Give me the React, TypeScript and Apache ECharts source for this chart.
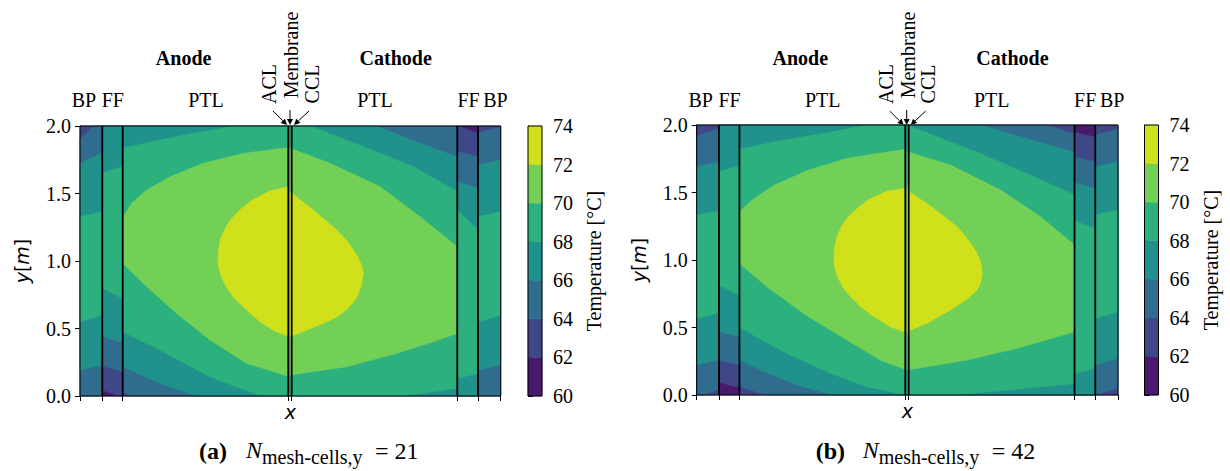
import React, { useEffect, useRef } from "react";
import * as echarts from "echarts";

type Pt = [number, number];
type Region = { lo: number; upper?: Pt[]; lower?: Pt[] };
type Block = { x0: number; x1: number; base: number; regions: Region[] };

// contour levels and viridis band colours
const LEVELS = [60, 62, 64, 66, 68, 70, 72, 74];
const BAND_COLORS = ["#481a6c", "#3f4788", "#2f6c8e", "#21918c", "#2cb17e", "#73d056", "#d0e11c"];
// layer boundaries along x: BP | FF | PTL | ACL/Membrane/CCL | PTL | FF | BP
const LAYER_EDGES = [0, 22.3, 42.7, 208.3, 211.7, 377.3, 398, 420.7];
const X_MAX = 420.7;
const Y_MIN = 0;
const Y_MAX = 2;
const TEMP_TICK_STEP = 2;
const Y_TICK_STEP = 0.5;
const Y_TICKS = [0, 0.5, 1, 1.5, 2];

// ---------- panel (a): N = 21 ----------
const A_BP_L: Block = { x0: 0, x1: 22.3, base: 62, regions: [
  { lo: 64, upper: [[0, 1.9], [13, 2], [22.3, 2]] },
  { lo: 66, upper: [[0, 1.724], [22.3, 1.8]], lower: [[0, 0.19], [22.3, 0.23]] },
  { lo: 68, upper: [[0, 1.328], [22.3, 1.365]], lower: [[0, 0.55], [22.3, 0.6]] },
] };
const A_FF_L: Block = { x0: 22.3, x1: 42.7, base: 60, regions: [
  { lo: 62, lower: [[22.3, 0.044], [38.3, 0], [42.7, 0]] },
  { lo: 64, lower: [[22.3, 0.222], [42.7, 0.18]] },
  { lo: 66, lower: [[22.3, 0.444], [42.7, 0.395]] },
  { lo: 68, upper: [[22.3, 1.65], [42.7, 1.7]], lower: [[22.3, 0.8], [42.7, 0.72]] },
] };
const A_PTL_L: Block = { x0: 42.7, x1: 210, base: 62, regions: [
  { lo: 64, lower: [[42.7, 0.032], [51.7, 0], [210, 0]] },
  { lo: 66, lower: [[42.7, 0.217], [80, 0.094], [116.7, 0], [210, 0]] },
  { lo: 68, upper: [[42.7, 1.835], [80, 1.896], [113.3, 1.946], [155, 2], [210, 2]],
    lower: [[42.7, 0.476], [80, 0.341], [130, 0.143], [181, 0], [210, 0]] },
  { lo: 70, upper: [[42.7, 1.328], [44.3, 1.34], [51.7, 1.427], [66.7, 1.526], [90, 1.624], [123.3, 1.724], [163.3, 1.797], [210, 1.842]],
    lower: [[42.7, 0.983], [66.7, 0.81], [96.7, 0.612], [130, 0.415], [166.7, 0.242], [210, 0.143]] },
  { lo: 72, upper: [[138, 1.0], [138.5, 1.08], [140.5, 1.16], [145, 1.24], [151, 1.31], [160, 1.38], [172, 1.45], [190, 1.52], [210, 1.551]],
    lower: [[138, 1.0], [139, 0.94], [142, 0.87], [147, 0.8], [155, 0.72], [166.7, 0.637], [180, 0.55], [195, 0.48], [210, 0.439]] },
] };
const A_PTL_R: Block = { x0: 210, x1: 377.3, base: 64, regions: [
  { lo: 66, upper: [[210, 2], [296.7, 2], [340, 1.872], [377.3, 1.773]] },
  { lo: 68, upper: [[210, 2], [230, 2], [283.3, 1.847], [333.3, 1.699], [377.3, 1.513]],
    lower: [[210, 0], [323.3, 0], [377.3, 0.057]] },
  { lo: 70, upper: [[210, 1.835], [250, 1.724], [300, 1.551], [340, 1.328], [377.3, 1.106]],
    lower: [[210, 0.156], [266.7, 0.217], [316.7, 0.316], [353.3, 0.402], [377.3, 0.464]] },
  { lo: 72, upper: [[210, 1.513], [233.3, 1.378], [256.7, 1.23], [268, 1.14], [277, 1.04], [282, 0.96], [283.3, 0.909]],
    lower: [[210, 0.439], [243.3, 0.538], [258, 0.59], [268, 0.65], [276, 0.72], [281, 0.81], [283.3, 0.909]] },
] };
const A_FF_R: Block = { x0: 377.3, x1: 398, base: 60, regions: [
  { lo: 62, upper: [[377.3, 2], [398, 1.946]] },
  { lo: 64, upper: [[377.3, 1.81], [398, 1.773]] },
  { lo: 66, upper: [[377.3, 1.588], [398, 1.538]] },
  { lo: 68, upper: [[377.3, 1.378], [398, 1.23]], lower: [[377.3, 0.131], [398, 0.168]] },
] };
const A_BP_R: Block = { x0: 398, x1: 420.7, base: 62, regions: [
  { lo: 64, upper: [[398, 1.95], [420.7, 1.99]] },
  { lo: 66, upper: [[398, 1.711], [420.7, 1.748]], lower: [[398, 0.193], [420.7, 0.23]] },
  { lo: 68, upper: [[398, 1.328], [420.7, 1.365]], lower: [[398, 0.55], [420.7, 0.6]] },
] };

// ---------- panel (b): N = 42 ----------
const B_BP_L: Block = { x0: 0, x1: 22.3, base: 62, regions: [
  { lo: 64, upper: [[0, 1.919], [22.3, 1.976]], lower: [[0, 0], [6.6, 0], [22.3, 0.042]] },
  { lo: 66, upper: [[0, 1.691], [22.3, 1.728]], lower: [[0, 0.222], [22.3, 0.264]] },
  { lo: 68, upper: [[0, 1.333], [22.3, 1.365]], lower: [[0, 0.568], [22.3, 0.61]] },
] };
const B_FF_L: Block = { x0: 22.3, x1: 42.7, base: 60, regions: [
  { lo: 62, lower: [[22.3, 0.095], [42.7, 0.055]] },
  { lo: 64, lower: [[22.3, 0.259], [42.7, 0.222]] },
  { lo: 66, lower: [[22.3, 0.469], [42.7, 0.432]] },
  { lo: 68, upper: [[22.3, 1.654], [42.7, 1.696]], lower: [[22.3, 0.815], [42.7, 0.741]] },
] };
const B_PTL_L: Block = { x0: 42.7, x1: 210, base: 62, regions: [
  { lo: 64, lower: [[42.7, 0.062], [70, 0], [210, 0]] },
  { lo: 66, lower: [[42.7, 0.259], [66.6, 0.175], [100, 0.075], [135, 0], [210, 0]] },
  { lo: 68, upper: [[42.7, 1.82], [83.3, 1.884], [133.3, 1.946], [170, 2], [210, 2]],
    lower: [[42.7, 0.5], [83.3, 0.333], [133.3, 0.161], [170, 0.062], [200, 0.015], [210, 0.01]] },
  { lo: 70, upper: [[42.7, 1.358], [56.6, 1.452], [76.6, 1.551], [110, 1.662], [150, 1.753], [210, 1.822]],
    lower: [[42.7, 0.975], [70, 0.802], [110, 0.587], [150, 0.407], [183.3, 0.259], [210, 0.185]] },
  { lo: 72, upper: [[137, 1.0], [137.5, 1.08], [139.5, 1.16], [144, 1.24], [150, 1.31], [160, 1.38], [172, 1.45], [190, 1.51], [210, 1.531]],
    lower: [[137, 1.0], [138, 0.94], [141, 0.87], [146, 0.8], [153.3, 0.73], [163, 0.66], [175, 0.59], [193.3, 0.506], [210, 0.462]] },
] };
const B_PTL_R: Block = { x0: 210, x1: 377.3, base: 62, regions: [
  { lo: 64, upper: [[210, 2], [350, 2], [377.3, 1.933]] },
  { lo: 66, upper: [[210, 2], [283.3, 2], [377.3, 1.798]] },
  { lo: 68, upper: [[210, 2], [286.6, 1.778], [336.6, 1.617], [377.3, 1.481]],
    lower: [[210, 0], [260, 0], [377.3, 0.086]] },
  { lo: 70, upper: [[210, 1.802], [253.3, 1.704], [303.3, 1.519], [343.3, 1.321], [377.3, 1.111]],
    lower: [[210, 0.185], [270, 0.259], [320, 0.346], [377.3, 0.469]] },
  { lo: 72, upper: [[210, 1.531], [213.3, 1.5], [236.6, 1.383], [260, 1.247], [272, 1.14], [280, 1.05], [284, 0.97], [285, 0.9]],
    lower: [[210, 0.462], [213.3, 0.481], [230, 0.531], [253.3, 0.63], [270, 0.71], [280, 0.778], [284, 0.84], [285, 0.9]] },
] };
const B_FF_R: Block = { x0: 377.3, x1: 398, base: 60, regions: [
  { lo: 62, upper: [[377.3, 1.946], [398, 1.909]] },
  { lo: 64, upper: [[377.3, 1.765], [398, 1.728]] },
  { lo: 66, upper: [[377.3, 1.575], [398, 1.526]] },
  { lo: 68, upper: [[377.3, 1.291], [398, 1.23]], lower: [[377.3, 0.161], [398, 0.198]] },
] };
const B_BP_R: Block = { x0: 398, x1: 420.7, base: 62, regions: [
  { lo: 64, upper: [[398, 1.926], [420.7, 1.97]], lower: [[398, 0], [420.7, 0.05]] },
  { lo: 66, upper: [[398, 1.691], [420.7, 1.728]], lower: [[398, 0.222], [420.7, 0.272]] },
  { lo: 68, upper: [[398, 1.333], [420.7, 1.37]], lower: [[398, 0.568], [420.7, 0.617]] },
] };

const PANEL_A = [A_BP_L, A_FF_L, A_PTL_L, A_PTL_R, A_FF_R, A_BP_R];
const PANEL_B = [B_BP_L, B_FF_L, B_PTL_L, B_PTL_R, B_FF_R, B_BP_R];

const SERIF_FONT = "'Liberation Serif', 'Times New Roman', serif";
const SANS_FONT = "'DejaVu Sans', sans-serif";

function bandColor(lo: number): string {
  const i = LEVELS.indexOf(lo);
  return BAND_COLORS[Math.max(0, Math.min(BAND_COLORS.length - 1, i))];
}

function buildPolys(blocks: Block[]) {
  const out: { lo: number; pts: Pt[] }[] = [];
  for (const b of blocks) {
    out.push({ lo: b.base, pts: [[b.x0, Y_MIN], [b.x1, Y_MIN], [b.x1, Y_MAX], [b.x0, Y_MAX]] });
    for (const r of b.regions) {
      const up: Pt[] = r.upper ?? [[b.x0, Y_MAX], [b.x1, Y_MAX]];
      const low: Pt[] = r.lower ?? [[b.x0, Y_MIN], [b.x1, Y_MIN]];
      out.push({ lo: r.lo, pts: [...up, ...low.slice().reverse()] });
    }
  }
  return out;
}

function contourSeries(blocks: Block[], gi: number) {
  const polys = buildPolys(blocks);
  return {
    type: "custom",
    xAxisIndex: gi,
    yAxisIndex: gi,
    silent: true,
    data: polys.map((p) => [p.pts[0][0], p.pts[0][1]]),
    encode: { x: 0, y: 1 },
    renderItem: (params: any, api: any) => {
      const p = polys[params.dataIndex];
      const c = bandColor(p.lo);
      return {
        type: "polygon",
        shape: { points: p.pts.map((pt) => api.coord(pt)) },
        style: { fill: c, stroke: c, lineWidth: 0.6 },
      };
    },
  };
}

function layerLineSeries(gi: number) {
  const inner = LAYER_EDGES.slice(1, -1);
  return {
    type: "custom",
    xAxisIndex: gi,
    yAxisIndex: gi,
    silent: true,
    z: 5,
    data: [...inner.map((x) => [x, 0, 1]), [0, 0, 0]],
    encode: { x: 0, y: 1 },
    renderItem: (params: any, api: any) => {
      if (api.value(2) === 1) {
        const x = api.value(0);
        const a = api.coord([x, Y_MIN]);
        const b = api.coord([x, Y_MAX]);
        return { type: "line", shape: { x1: a[0], y1: a[1], x2: b[0], y2: b[1] }, style: { stroke: "#000", lineWidth: 1.8 } };
      }
      const tl = api.coord([0, Y_MAX]);
      const br = api.coord([X_MAX, Y_MIN]);
      return {
        type: "rect",
        shape: { x: tl[0], y: tl[1], width: br[0] - tl[0], height: br[1] - tl[1] },
        style: { fill: "none", stroke: "#000", lineWidth: 1 },
      };
    },
  };
}

function colorbarSeries(gi: number) {
  const bands = LEVELS.slice(0, -1).map((lo, i) => [0.5, lo, LEVELS[i + 1]]);
  return {
    type: "custom",
    xAxisIndex: gi,
    yAxisIndex: gi,
    silent: true,
    data: [...bands, [0.5, -1, -1]],
    encode: { x: 0, y: [1, 2] },
    renderItem: (params: any, api: any) => {
      const lo = api.value(1);
      const hi = api.value(2);
      if (lo < 0) {
        const tl = api.coord([0, LEVELS[LEVELS.length - 1]]);
        const br = api.coord([1, LEVELS[0]]);
        return { type: "rect", shape: { x: tl[0], y: tl[1], width: br[0] - tl[0], height: br[1] - tl[1] }, style: { fill: "none", stroke: "#000", lineWidth: 1 } };
      }
      const p0 = api.coord([0, lo]);
      const p1 = api.coord([1, hi]);
      const c = bandColor(lo);
      return { type: "rect", shape: { x: p0[0], y: p1[1], width: p1[0] - p0[0], height: p0[1] - p1[1] }, style: { fill: c, stroke: c, lineWidth: 0.5 } };
    },
  };
}

function mainXAxis(gi: number) {
  return {
    gridIndex: gi,
    type: "value",
    min: 0,
    max: X_MAX,
    axisLine: { show: false },
    axisTick: { show: true, customValues: LAYER_EDGES, length: 5, lineStyle: { color: "#000", width: 1 } },
    axisLabel: { show: false },
    splitLine: { show: false },
  };
}
function mainYAxis(gi: number) {
  return {
    gridIndex: gi,
    type: "value",
    min: Y_MIN,
    max: Y_MAX,
    interval: Y_TICK_STEP,
    axisLine: { show: true, lineStyle: { color: "#000", width: 1 } },
    axisTick: { show: true, length: 5, lineStyle: { color: "#000" } },
    axisLabel: { show: false },
    splitLine: { show: false },
  };
}
function cbXAxis(gi: number) {
  return { gridIndex: gi, type: "value", min: 0, max: 1, show: false };
}
function cbYAxis(gi: number) {
  return {
    gridIndex: gi,
    type: "value",
    position: "right",
    min: LEVELS[0],
    max: LEVELS[LEVELS.length - 1],
    interval: TEMP_TICK_STEP,
    axisLine: { show: true, lineStyle: { color: "#000", width: 1 } },
    axisTick: { show: true, length: 5, lineStyle: { color: "#000" } },
    axisLabel: { show: false },
    splitLine: { show: false },
  };
}

function txt(x: number, y: number, text: string, font: string, rotation = 0, align = "center") {
  return {
    type: "text",
    x,
    y,
    rotation,
    silent: true,
    style: { text, font, fill: "#000", align, verticalAlign: "middle", textAlign: align, textVerticalAlign: "middle" },
  };
}
function arrow(x1: number, y1: number, x2: number, y2: number) {
  const dx = x2 - x1, dy = y2 - y1;
  const len = Math.sqrt(dx * dx + dy * dy);
  const ux = dx / len, uy = dy / len;
  const hl = 6, hw = 3;
  const bx = x2 - ux * hl, by = y2 - uy * hl;
  return [
    { type: "line", silent: true, shape: { x1, y1, x2: bx, y2: by }, style: { stroke: "#000", lineWidth: 1 } },
    { type: "polygon", silent: true, shape: { points: [[x2, y2], [bx - uy * hw, by + ux * hw], [bx + uy * hw, by - ux * hw]] }, style: { fill: "#000" } },
  ];
}

function panelGraphics(L: number, tag: string, n: string) {
  const f20 = `20px ${SERIF_FONT}`;
  const fb = `bold 20px ${SERIF_FONT}`;
  const top = 100;
  return [
    txt(L + 103.6, 58, "Anode", fb),
    txt(L + 315.7, 58, "Cathode", fb),
    txt(L + 4, top, "BP", f20),
    txt(L + 32.8, top, "FF", f20),
    txt(L + 126, top, "PTL", f20),
    txt(L + 295, top, "PTL", f20),
    txt(L + 388.5, top, "FF", f20),
    txt(L + 415.5, top, "BP", f20),
    txt(L + 188.8, 84, "ACL", f20, Math.PI / 2),
    txt(L + 211, 55, "Membrane", f20, Math.PI / 2),
    txt(L + 231.6, 84, "CCL", f20, Math.PI / 2),
    ...arrow(L + 193, 111, L + 207, 125),
    ...arrow(L + 210, 110, L + 210, 125),
    ...arrow(L + 229, 111, L + 214, 125),
    txt(L + 119, 451, tag, `bold 24px ${SERIF_FONT}`, 0, "left"),
    txt(L + 166, 450, "N", `italic 24px ${SERIF_FONT}`, 0, "left"),
    txt(L + 182, 457, "mesh-cells,y", `20px ${SERIF_FONT}`, 0, "left"),
    txt(L + 295, 451, "= " + n, `24px ${SERIF_FONT}`, 0, "left"),
  ];
}

// axis labels and names, placed through the axes' own scales
function axisTextGraphics(chart: any, mainIdx: number, cbIdx: number) {
  const out: any[] = [];
  const f20 = `20px ${SERIF_FONT}`;
  const x0 = chart.convertToPixel({ xAxisIndex: mainIdx }, 0);
  const x1 = chart.convertToPixel({ xAxisIndex: mainIdx }, X_MAX);
  const yb = chart.convertToPixel({ yAxisIndex: mainIdx }, Y_MIN);
  const yt = chart.convertToPixel({ yAxisIndex: mainIdx }, Y_MAX);
  for (const v of Y_TICKS) {
    const py = chart.convertToPixel({ yAxisIndex: mainIdx }, v);
    out.push(txt(x0 - 9, py, v.toFixed(1), f20, 0, "right"));
  }
  out.push(txt((x0 + x1) / 2, yb + 16, "x", `italic 19px ${SANS_FONT}`));
  out.push({
    type: "text", x: x0 - 58, y: (yb + yt) / 2, rotation: Math.PI / 2, silent: true,
    style: {
      text: "{i|y}[{i|m}]", font: `19px ${SANS_FONT}`, fill: "#000", align: "center", verticalAlign: "middle",
      textAlign: "center", textVerticalAlign: "middle",
      rich: { i: { font: `italic 19px ${SANS_FONT}`, fontStyle: "italic", fontFamily: "DejaVu Sans", fontSize: 19, fill: "#000" } },
    },
  });
  const cx = chart.convertToPixel({ xAxisIndex: cbIdx }, 1);
  for (let v = LEVELS[0]; v <= LEVELS[LEVELS.length - 1]; v += TEMP_TICK_STEP) {
    const py = chart.convertToPixel({ yAxisIndex: cbIdx }, v);
    out.push(txt(cx + 11, py, String(v), f20, 0, "left"));
  }
  const cyb = chart.convertToPixel({ yAxisIndex: cbIdx }, LEVELS[0]);
  const cyt = chart.convertToPixel({ yAxisIndex: cbIdx }, LEVELS[LEVELS.length - 1]);
  out.push(txt(cx + 52, (cyb + cyt) / 2, "Temperature [°C]", f20, Math.PI / 2));
  return out;
}

export default function App() {
  const ref = useRef<HTMLDivElement>(null);
  useEffect(() => {
    if (!ref.current) return;
    const chart = echarts.init(ref.current, undefined, { renderer: "svg" });
    const option: any = {
      animation: false,
      backgroundColor: "#fff",
      grid: [
        { left: 80, top: 126, width: 420.7, height: 270 },
        { left: 696.7, top: 125, width: 421.3, height: 270 },
        { left: 528, top: 126, width: 14, height: 270 },
        { left: 1144.5, top: 125, width: 14, height: 270 },
      ],
      xAxis: [mainXAxis(0), mainXAxis(1), cbXAxis(2), cbXAxis(3)],
      yAxis: [mainYAxis(0), mainYAxis(1), cbYAxis(2), cbYAxis(3)],
      series: [
        contourSeries(PANEL_A, 0),
        contourSeries(PANEL_B, 1),
        layerLineSeries(0),
        layerLineSeries(1),
        colorbarSeries(2),
        colorbarSeries(3),
      ],
    };
    chart.setOption(option);
    chart.setOption({
      graphic: [
        ...panelGraphics(80, "(a)", "21"),
        ...panelGraphics(696.7, "(b)", "42"),
        ...axisTextGraphics(chart, 0, 2),
        ...axisTextGraphics(chart, 1, 3),
      ],
    });
    return () => chart.dispose();
  }, []);
  return <div ref={ref} style={{ position: "fixed", left: 0, top: 0, width: 1230, height: 471, background: "#fff" }} />;
}
